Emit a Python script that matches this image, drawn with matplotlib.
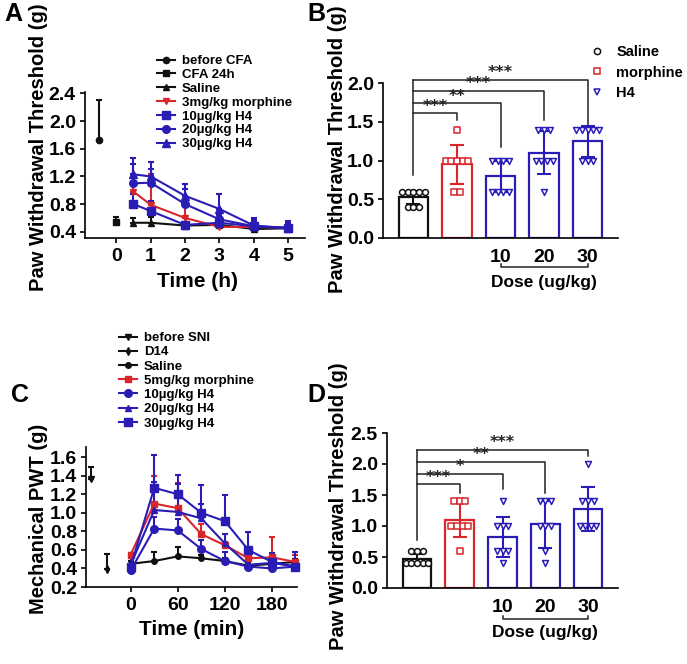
import numpy as np
import matplotlib
matplotlib.use("Agg")
import matplotlib.pyplot as plt
import matplotlib.transforms as mtransforms
from matplotlib.lines import Line2D

plt.rcParams["font.family"] = ["Liberation Sans", "DejaVu Sans"]
plt.rcParams["font.weight"] = "bold"
plt.rcParams["axes.labelweight"] = "bold"

RED = "#d8262b"
BLUE = "#2a1db5"
BLACK = "#111111"

# ---------------- Panel A: CFA time course (h) ----------------
a_before_x, a_before_y, a_before_err = [-0.5], [1.72], [0.58]
a_cfa_x, a_cfa_y, a_cfa_err = [0], [0.54], [0.07]
a_time = [0.5, 1, 2, 3, 4, 5]
a_saline = [0.53, 0.53, 0.49, 0.50, 0.44, 0.45]
a_saline_err = [0.07, 0.08, 0.03, 0.03, 0.03, 0.03]
a_morphine = [0.98, 0.79, 0.60, 0.47, 0.47, 0.46]
a_morphine_err = [0.22, 0.44, 0.18, 0.05, 0.08, 0.07]
a_h4_10 = [0.80, 0.70, 0.50, 0.53, 0.48, 0.46]
a_h4_10_err = [0.15, 0.15, 0.04, 0.05, 0.06, 0.05]
a_h4_20 = [1.10, 1.11, 0.80, 0.58, 0.48, 0.45]
a_h4_20_err = [0.28, 0.19, 0.22, 0.06, 0.12, 0.10]
a_h4_30 = [1.23, 1.20, 0.92, 0.73, 0.49, 0.45]
a_h4_30_err = [0.23, 0.21, 0.17, 0.22, 0.08, 0.08]

# ---------------- Panel C: SNI time course (min) ----------------
c_before_x, c_before_y, c_before_err = [-50], [1.36], [0.13]
c_d14_x, c_d14_y, c_d14_err = [-30], [0.39], [0.17]
c_time = [0, 30, 60, 90, 120, 150, 180, 210]
c_saline = [0.45, 0.48, 0.53, 0.51, 0.48, 0.43, 0.45, 0.47]
c_saline_err = [0.03, 0.10, 0.10, 0.03, 0.03, 0.03, 0.03, 0.03]
c_morphine = [0.55, 1.10, 1.05, 0.77, 0.65, 0.51, 0.52, 0.47]
c_morphine_err = [0.02, 0.30, 0.27, 0.11, 0.03, 0.03, 0.22, 0.08]
c_h4_10 = [0.38, 0.83, 0.81, 0.61, 0.48, 0.42, 0.40, 0.42]
c_h4_10_err = [0.05, 0.12, 0.12, 0.10, 0.10, 0.03, 0.03, 0.03]
c_h4_20 = [0.44, 1.03, 1.01, 0.94, 0.67, 0.44, 0.46, 0.42]
c_h4_20_err = [0.10, 0.30, 0.30, 0.16, 0.10, 0.05, 0.05, 0.05]
c_h4_30 = [0.42, 1.27, 1.20, 1.00, 0.91, 0.60, 0.47, 0.42]
c_h4_30_err = [0.15, 0.35, 0.21, 0.30, 0.28, 0.19, 0.10, 0.16]

# ---------------- Panels B / D: dose response ----------------
groups = ["Saline", "morphine", "H4 10", "H4 20", "H4 30"]
dose_labels = ["10", "20", "30"]

b_points = [
    [0.6, 0.6, 0.6, 0.6, 0.6, 0.4, 0.4, 0.4],
    [1.4, 1.0, 1.0, 1.0, 1.0, 1.0, 0.6, 0.6],
    [1.0, 1.0, 1.0, 1.0, 0.6, 0.6, 0.6, 0.6],
    [1.4, 1.4, 1.4, 1.0, 1.0, 1.0, 1.0, 0.6],
    [1.4, 1.4, 1.4, 1.4, 1.4, 1.0, 1.0, 1.0],
]
b_sd = [0.08, 0.25, 0.20, 0.28, 0.20]
b_stars = ["***", "**", "***", "***"]

d_points = [
    [0.6, 0.6, 0.6, 0.4, 0.4, 0.4, 0.4, 0.4],
    [1.4, 1.4, 1.4, 1.0, 1.0, 1.0, 1.0, 0.6],
    [1.4, 1.0, 1.0, 1.0, 0.6, 0.6, 0.6, 0.4],
    [1.4, 1.4, 1.4, 1.0, 1.0, 1.0, 0.6, 0.4],
    [2.0, 1.4, 1.4, 1.4, 1.0, 1.0, 1.0, 1.0],
]
d_sd = [0.08, 0.28, 0.32, 0.38, 0.35]
d_stars = ["***", "*", "**", "***"]

# bracket layout (y of horizontal bar, y where it ends above the group)
b_bracket_y = [1.61, 1.74, 1.90, 2.04]
b_bracket_end = [1.52, 1.17, 1.52, 1.45]
b_bracket_base = 0.81
d_bracket_y = [1.67, 1.84, 2.03, 2.23]
d_bracket_end = [1.53, 1.60, 1.53, 2.13]
d_bracket_base = 0.77

bar_colors = [BLACK, RED, BLUE, BLUE, BLUE]
bar_markers = ["o", "s", "v", "v", "v"]

W, H = 687, 664
fig = plt.figure(figsize=(W / 100, H / 100), dpi=100)


def px_axes(left, top, right, bottom):
    return fig.add_axes([left / W, 1 - bottom / H, (right - left) / W, (bottom - top) / H])


def style_axes(ax):
    for s in ["top", "right"]:
        ax.spines[s].set_visible(False)
    for s in ["left", "bottom"]:
        ax.spines[s].set_linewidth(1.2)
    ax.tick_params(width=1.2, length=3.5, labelsize=14, pad=3)
    for lab in ax.get_xticklabels() + ax.get_yticklabels():
        lab.set_fontweight("bold")


def series(ax, x, y, err, color, marker, ms, label):
    ax.errorbar(x, y, yerr=[np.zeros(len(y)), err], fmt="none", ecolor=color,
                elinewidth=1.5, capsize=2.5, capthick=1.5, clip_on=False, zorder=2)
    line, = ax.plot(x, y, color=color, marker=marker, ms=ms, lw=1.5, label=label,
                    clip_on=False, zorder=3)
    return line


def dot_bar(ax, points, sds, stars, br_y, br_end, br_base):
    xs = np.arange(len(points))
    means = [np.mean(p) for p in points]
    ax.bar(xs, means, width=0.67, facecolor="white", edgecolor=bar_colors,
           linewidth=1.6, zorder=1)
    for i, vals in enumerate(points):
        c = bar_colors[i]
        ax.errorbar(i, means[i], yerr=sds[i], fmt="none", ecolor=c, elinewidth=1.5,
                    capsize=5, capthick=1.5, zorder=3)
        vals = np.array(vals)
        for v in np.unique(vals):
            k = int(np.sum(vals == v))
            offs = (np.arange(k) - (k - 1) / 2) * 0.13
            ax.scatter(i + offs, [v] * k, marker=bar_markers[i], s=18, facecolors="white",
                       edgecolors=c, linewidths=1.1, zorder=4, clip_on=False)
    # significance brackets from saline
    top = max(br_y)
    ax.plot([0, 0], [br_base, top], color="#222222", lw=1.1, clip_on=False, zorder=2)
    for j, (yb, ye, st) in enumerate(zip(br_y, br_end, stars)):
        g = j + 1
        ax.plot([0, g, g], [yb, yb, ye], color="#222222", lw=1.1, clip_on=False, zorder=2)
        ax.text(g / 2, yb - 0.005, st, ha="center", va="bottom", fontsize=11.5,
                family="DejaVu Sans", color="#222222")
    ax.set_xlim(-0.7, 4.7)
    ax.set_xticks([2, 3, 4], dose_labels)


# ---------------- A ----------------
axA = px_axes(85, 92, 305, 238)
hA = []
hA.append(series(axA, a_before_x, a_before_y, a_before_err, BLACK, "o", 4.5, "before CFA"))
hA.append(series(axA, a_cfa_x, a_cfa_y, a_cfa_err, BLACK, "s", 4.5, "CFA 24h"))
hA.append(series(axA, a_time, a_saline, a_saline_err, BLACK, "^", 4.5, "Saline"))
hA.append(series(axA, a_time, a_morphine, a_morphine_err, RED, "v", 4.5, "3mg/kg morphine"))
hA.append(series(axA, a_time, a_h4_10, a_h4_10_err, BLUE, "s", 5.5, "10µg/kg H4"))
hA.append(series(axA, a_time, a_h4_20, a_h4_20_err, BLUE, "o", 5.5, "20µg/kg H4"))
hA.append(series(axA, a_time, a_h4_30, a_h4_30_err, BLUE, "^", 5.5, "30µg/kg H4"))
axA.set_xlim(-0.91, 5.49)
axA.set_ylim(0.31, 2.42)
axA.set_yticks(np.arange(0.4, 2.41, 0.4))
axA.set_xticks(range(0, 6))
style_axes(axA)
axA.tick_params(axis="x", pad=4)
axA.set_ylabel("Paw Withdrawal Threshold (g)", fontsize=14.5)
axA.yaxis.set_label_coords(-0.17, 0.62)
axA.set_xlabel("Time (h)", fontsize=15)
axA.xaxis.set_label_coords(0.51, -0.235)
axA.legend(handles=hA, loc="upper left", bbox_to_anchor=(157 / W, 1 - 55 / H),
           bbox_transform=fig.transFigure, frameon=False, fontsize=9.5,
           handlelength=1.35, handletextpad=0.55, labelspacing=0.12, borderpad=0,
           borderaxespad=0)

# ---------------- B ----------------
axB = px_axes(383, 83, 618, 238)
dot_bar(axB, b_points, b_sd, b_stars, b_bracket_y, b_bracket_end, b_bracket_base)
axB.set_ylim(0, 2.0)
axB.set_yticks(np.arange(0, 2.01, 0.5))
style_axes(axB)
axB.tick_params(axis="x", length=0, pad=8)
axB.set_ylabel("Paw Withdrawal Threshold (g)", fontsize=14.5)
axB.yaxis.set_label_coords(-0.155, 0.57)
trB = mtransforms.blended_transform_factory(axB.transData, axB.transAxes)
axB.plot([2, 2, 4, 4], [-0.165, -0.19, -0.19, -0.165], color="#222222", lw=1.1,
         transform=trB, clip_on=False)
axB.text(3, -0.285, "Dose (ug/kg)", transform=trB, ha="center", va="center",
         fontsize=12.5, fontweight="bold")
legB = [Line2D([], [], ls="none", marker=m, ms=4.5, mfc="white", mec=c, mew=1.1)
        for m, c in zip(["o", "s", "v"], [BLACK, RED, BLUE])]
axB.legend(legB, ["Saline", "morphine", "H4"], loc="upper left",
           bbox_to_anchor=(590 / W, 1 - 45 / H), bbox_transform=fig.transFigure,
           frameon=False, fontsize=10.5, handlelength=1.0, handletextpad=0.8,
           labelspacing=0.45, borderpad=0, borderaxespad=0)

# ---------------- C ----------------
axC = px_axes(86, 447, 297, 587)
hC = []
hC.append(series(axC, c_before_x, c_before_y, c_before_err, BLACK, "v", 4, "before SNI"))
hC.append(series(axC, c_d14_x, c_d14_y, c_d14_err, BLACK, "d", 4, "D14"))
hC.append(series(axC, c_time, c_saline, c_saline_err, BLACK, "o", 4, "Saline"))
hC.append(series(axC, c_time, c_morphine, c_morphine_err, RED, "s", 4.5, "5mg/kg morphine"))
hC.append(series(axC, c_time, c_h4_10, c_h4_10_err, BLUE, "o", 5.5, "10µg/kg H4"))
hC.append(series(axC, c_time, c_h4_20, c_h4_20_err, BLUE, "^", 4.5, "20µg/kg H4"))
hC.append(series(axC, c_time, c_h4_30, c_h4_30_err, BLUE, "s", 6, "30µg/kg H4"))
axC.set_xlim(-57, 212)
axC.set_ylim(0.2, 1.71)
axC.set_yticks(np.arange(0.2, 1.61, 0.2))
axC.set_xticks([0, 60, 120, 180])
style_axes(axC)
axC.tick_params(axis="x", pad=4)
axC.set_ylabel("Mechanical PWT (g)", fontsize=14.5)
axC.yaxis.set_label_coords(-0.18, 0.49)
axC.set_xlabel("Time (min)", fontsize=15)
axC.xaxis.set_label_coords(0.5, -0.235)
axC.legend(handles=hC, loc="upper left", bbox_to_anchor=(119 / W, 1 - 332 / H),
           bbox_transform=fig.transFigure, frameon=False, fontsize=9.5,
           handlelength=1.35, handletextpad=0.55, labelspacing=0.15, borderpad=0,
           borderaxespad=0)

# ---------------- D ----------------
axD = px_axes(387, 433, 618, 588)
dot_bar(axD, d_points, d_sd, d_stars, d_bracket_y, d_bracket_end, d_bracket_base)
axD.set_ylim(0, 2.5)
axD.set_yticks(np.arange(0, 2.51, 0.5))
style_axes(axD)
axD.tick_params(axis="x", length=0, pad=8)
axD.set_ylabel("Paw Withdrawal Threshold (g)", fontsize=14.5)
axD.yaxis.set_label_coords(-0.17, 0.53)
trD = mtransforms.blended_transform_factory(axD.transData, axD.transAxes)
axD.plot([2, 2, 4, 4], [-0.18, -0.2, -0.2, -0.18], color="#222222", lw=1.1,
         transform=trD, clip_on=False)
axD.text(3, -0.29, "Dose (ug/kg)", transform=trD, ha="center", va="center",
         fontsize=12.5, fontweight="bold")

# panel letters
for letter, x, y in [("A", 4, 14), ("B", 307, 14), ("C", 11, 395), ("D", 307, 395)]:
    fig.text(x / W, 1 - y / H, letter, fontsize=18, fontweight="bold", va="center", ha="left")

fig.savefig("out.png", dpi=100)
